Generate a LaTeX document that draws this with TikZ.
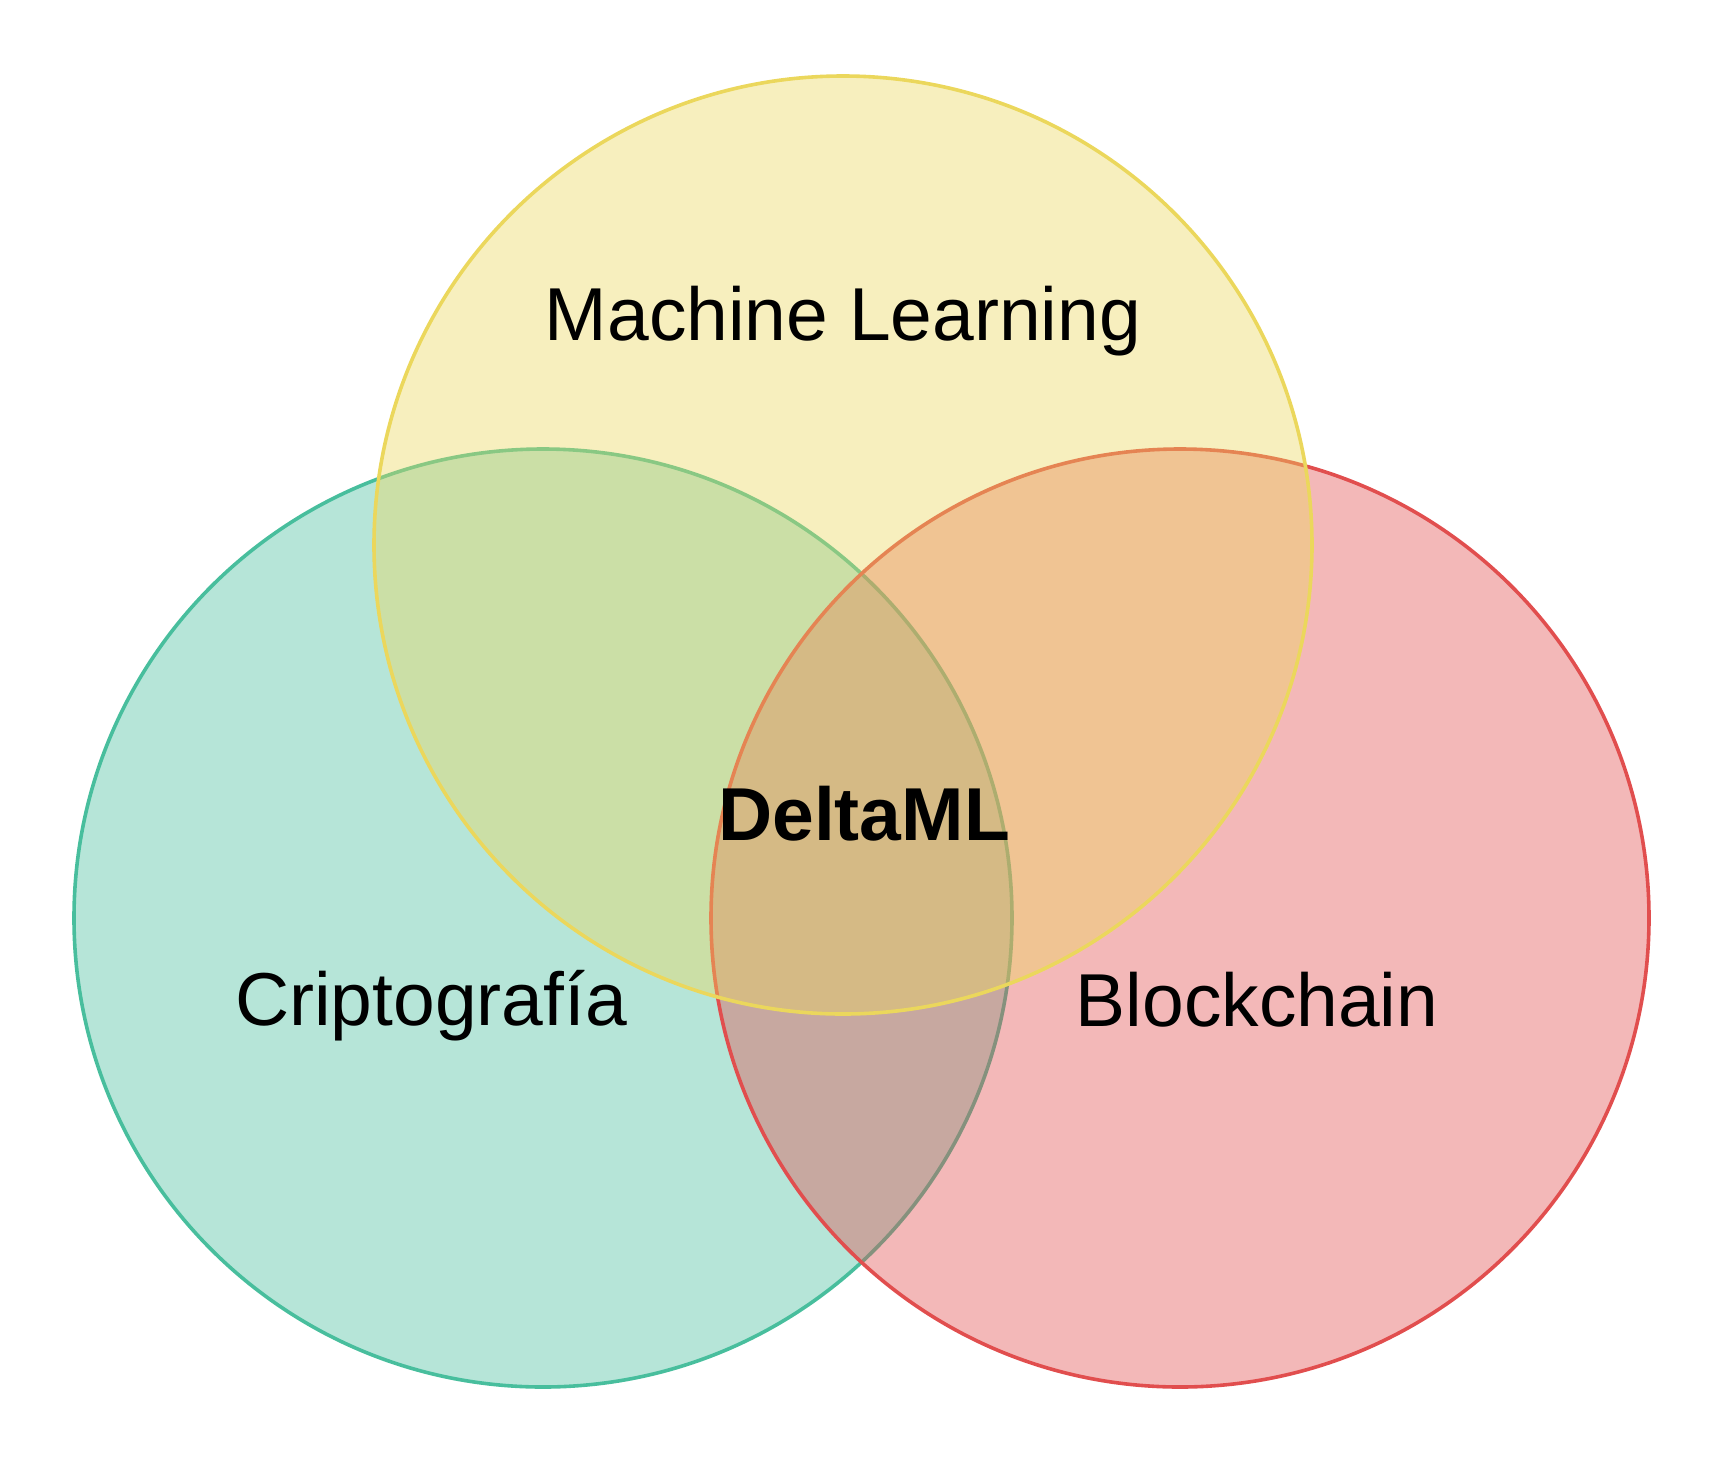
\documentclass[tikz,border=0pt]{standalone}
\usepackage{fontspec}
\setmainfont{Liberation Sans}
\definecolor{cryptogreen}{HTML}{48BE9D}
\definecolor{mlyellow}{HTML}{EBD75C}
\definecolor{chainred}{HTML}{E14E4E}
\tikzset{
    venn/.style={circle, draw=#1, fill=#1, fill opacity=0.4, line width=1.8pt,
                 minimum size=469pt, inner sep=0pt},
    setlabel/.style={anchor=base, inner sep=0pt, font=\fontsize{37.5}{45}\selectfont}
}
\begin{document}
\begin{tikzpicture}[x=0.5pt, y=-0.5pt]
        \useasboundingbox (0,0) rectangle (1725,1463);
        \begin{scope}
            \node[venn=cryptogreen] (crypto) at (543,918) {};
            \node[venn=chainred] (chain) at (1180,918) {};
            \node[venn=mlyellow] (ml) at (843,545) {};
        \end{scope}
        \begin{scope}[every node/.style={setlabel}]
            \node (mltext) at (843,340) {Machine Learning};
            \node (cryptotext) at (431,1025) {Criptografía};
            \node (chaintext) at (1257,1026) {Blockchain};
            \node (delta) at (864,840) {\bfseries DeltaML};
        \end{scope}
    \end{tikzpicture}
\end{document}
